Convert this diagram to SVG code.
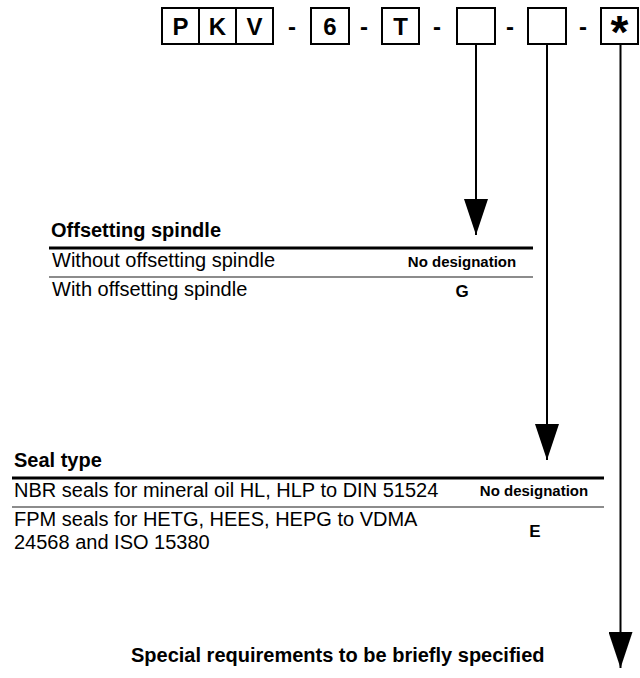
<svg xmlns="http://www.w3.org/2000/svg" width="640" height="678" viewBox="0 0 640 678">
<style>
  text { font-family: "Liberation Sans", Arial, Helvetica, sans-serif; fill: #000; }
  .box { fill: #fff; stroke: #000; stroke-width: 2; }
  .code { font-size: 24px; font-weight: bold; text-anchor: middle; }
  .dash { font-size: 24px; font-weight: bold; text-anchor: middle; }
  .title { font-size: 20px; font-weight: bold; }
  .body { font-size: 20px; }
  .desig { font-size: 15px; font-weight: bold; text-anchor: middle; }
  .letter { font-size: 17px; font-weight: bold; text-anchor: middle; }
  .thick { stroke: #000; stroke-width: 3; }
  .thin { stroke: #666; stroke-width: 1.5; }
  .conn { stroke: #000; stroke-width: 2; fill: none; marker-end: url(#arrow); }
</style>
<defs>
  <marker id="arrow" markerUnits="userSpaceOnUse" markerWidth="36" markerHeight="24" viewBox="0 -12 36 24" refX="36" refY="0" orient="auto">
    <path d="M0,-12 L36,0 L0,12 Z" fill="#000"/>
  </marker>
</defs>
<rect width="640" height="678" fill="#fff"/>

<g id="type-code">
  <rect class="box" x="162" y="8" width="37" height="36"/>
  <rect class="box" x="199" y="8" width="37" height="36"/>
  <rect class="box" x="236" y="8" width="37" height="36"/>
  <text class="code" x="180.5" y="35">P</text>
  <text class="code" x="217.5" y="35">K</text>
  <text class="code" x="254.5" y="35">V</text>
  <text class="dash" x="292" y="35">-</text>
  <rect class="box" x="311" y="8" width="38" height="36"/>
  <text class="code" x="330" y="35">6</text>
  <text class="dash" x="364" y="35">-</text>
  <rect class="box" x="382" y="8" width="37" height="36"/>
  <text class="code" x="400.5" y="35">T</text>
  <text class="dash" x="437" y="35">-</text>
  <rect class="box" x="457" y="8" width="38" height="36"/>
  <text class="dash" x="510" y="35">-</text>
  <rect class="box" x="528" y="8" width="38" height="36"/>
  <text class="dash" x="583" y="35">-</text>
  <rect class="box" x="601" y="8" width="37" height="36"/>
  <text class="code" x="619.5" y="48" style="font-size:46px">*</text>
</g>

<g id="connectors">
  <line class="conn" x1="476" y1="44" x2="476" y2="235"/>
  <line class="conn" x1="547" y1="44" x2="547" y2="460"/>
  <line class="conn" x1="620.5" y1="44" x2="620.5" y2="668"/>
</g>

<g id="offsetting-spindle">
  <text class="title" x="51" y="237">Offsetting spindle</text>
  <line class="thick" x1="49" y1="248" x2="533" y2="248"/>
  <text class="body" x="52" y="267">Without offsetting spindle</text>
  <text class="desig" x="462" y="267">No designation</text>
  <line class="thin" x1="49" y1="277" x2="533" y2="277"/>
  <text class="body" x="52" y="296">With offsetting spindle</text>
  <text class="letter" x="462" y="297">G</text>
</g>

<g id="seal-type">
  <text class="title" x="14" y="467">Seal type</text>
  <line class="thick" x1="12" y1="478" x2="604" y2="478"/>
  <text class="body" x="14" y="497">NBR seals for mineral oil HL, HLP to DIN 51524</text>
  <text class="desig" x="534" y="496">No designation</text>
  <line class="thin" x1="12" y1="507" x2="604" y2="507"/>
  <text class="body"><tspan x="14" y="526">FPM seals for HETG, HEES, HEPG to VDMA</tspan><tspan x="14" dy="23">24568 and ISO 15380</tspan></text>
  <text class="letter" x="535" y="537">E</text>
</g>

<g id="special-requirements">
  <text class="title" x="131" y="662">Special requirements to be briefly specified</text>
</g>
</svg>
